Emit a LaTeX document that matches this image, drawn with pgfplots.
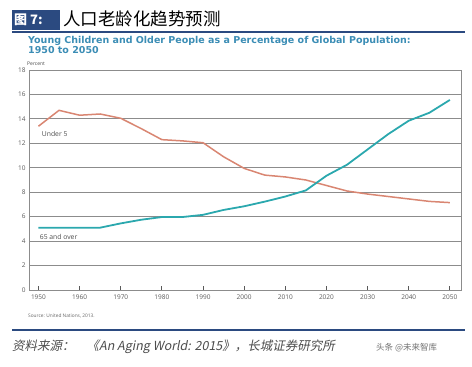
\documentclass[border=0pt]{standalone}
\usepackage{fontspec}
\setmainfont{Open Sans}
\newfontfamily\cjk{Noto Sans CJK SC}
\newfontfamily\cjkit[FakeSlant=0.2]{Noto Sans CJK SC}
\newfontfamily\dvb{DejaVu Sans Bold}
\usepackage{pgfplots}
\pgfplotsset{compat=1.18}
\definecolor{hdrblue}{HTML}{2B4A80}
\definecolor{subblue}{HTML}{3B8DB5}
\definecolor{ufive}{HTML}{D98672}
\definecolor{osix}{HTML}{2BA8AE}
\definecolor{gridgray}{HTML}{8C8C8C}
\begin{document}
\begin{tikzpicture}[x=1pt,y=1pt]
\useasboundingbox (0,0) rectangle (472,367);
% header
\fill[hdrblue] (12,{367-10}) rectangle (60,{367-30});
\node[anchor=west, text=white, inner sep=0, font={\cjk\bfseries\fontsize{13}{14}\selectfont}] at (14,{367-20}) {图 7:};
\node[anchor=west, inner sep=0, font={\cjk\fontsize{17.5}{19}\selectfont}] at (63,{367-19}) {人口老龄化趋势预测};
\draw[hdrblue, line width=1.8pt] (12,{367-32}) -- (465,{367-32});
% subtitle
\node[anchor=north west, align=left, inner sep=0, text=subblue, font={\dvb\fontsize{9.5}{10}\selectfont}] at (28,{367-36})
  {Young Children and Older People as a Percentage of Global Population:\\1950 to 2050};
\node[anchor=west, inner sep=0, text=black!70, font={\fontsize{5}{6}\selectfont}] at (27,{367-63.5}) {Percent};
\begin{axis}[at={(29pt,77pt)}, anchor=south west, scale only axis,
  width=432pt, height=220pt,
  xmin=1947.7, xmax=2052.7, ymin=0, ymax=18,
  xtick={1950,1960,...,2050}, ytick={0,2,...,18},
  ymajorgrids, grid style={gridgray, line width=0.8pt},
  axis line style={gridgray, line width=0.8pt},
  xtick pos=bottom, tick align=inside, major tick length=4pt,
  x tick style={black!65, line width=0.8pt},
  y tick style={draw=none},
  ticklabel style={font=\fontsize{6.5}{7}\selectfont, text=black!65},
  x tick label style={/pgf/number format/1000 sep={}, yshift=-1pt},
  /pgf/number format/assume math mode=true,
  clip=false]
\addplot[ufive, line width=1.5pt] coordinates {
(1950,13.4) (1955,14.7) (1960,14.3) (1965,14.4) (1970,14.05) (1975,13.2)
(1980,12.3) (1985,12.2) (1990,12.05) (1995,10.9) (2000,9.95) (2005,9.4)
(2010,9.25) (2015,9.0) (2020,8.55) (2025,8.1) (2030,7.85) (2035,7.65)
(2040,7.45) (2045,7.25) (2050,7.15)};
\addplot[osix, line width=1.8pt] coordinates {
(1950,5.1) (1955,5.1) (1960,5.1) (1965,5.1) (1970,5.45) (1975,5.75)
(1980,5.97) (1985,5.97) (1990,6.15) (1995,6.55) (2000,6.85) (2005,7.23)
(2010,7.65) (2015,8.15) (2020,9.35) (2025,10.25) (2030,11.5) (2035,12.75)
(2040,13.85) (2045,14.5) (2050,15.55)};
\node[anchor=west, text=black!70, inner sep=0, font={\fontsize{6.8}{7}\selectfont}] at (axis cs:1950.8,12.8) {Under 5};
\node[anchor=west, text=black!70, inner sep=0, font={\fontsize{6.8}{7}\selectfont}] at (axis cs:1950.3,4.3) {65 and over};
\end{axis}
\node[anchor=west, inner sep=0, text=black!60, font={\fontsize{4.8}{5.5}\selectfont}] at (28,{367-316}) {Source: United Nations, 2013.};
\draw[hdrblue, line width=1.5pt] (12,{367-330}) -- (465,{367-330});
\node[anchor=west, inner sep=0, text=black!70, font={\cjkit\fontsize{12.5}{14}\selectfont}] at (12,{367-347}) {资料来源：\hspace{12pt}《An Aging World: 2015》，长城证券研究所};
\node[anchor=west, inner sep=0, text=black!55, font={\cjk\fontsize{8.5}{10}\selectfont}] at (376,{367-348}) {头条 @未来智库};
\end{tikzpicture}
\end{document}
